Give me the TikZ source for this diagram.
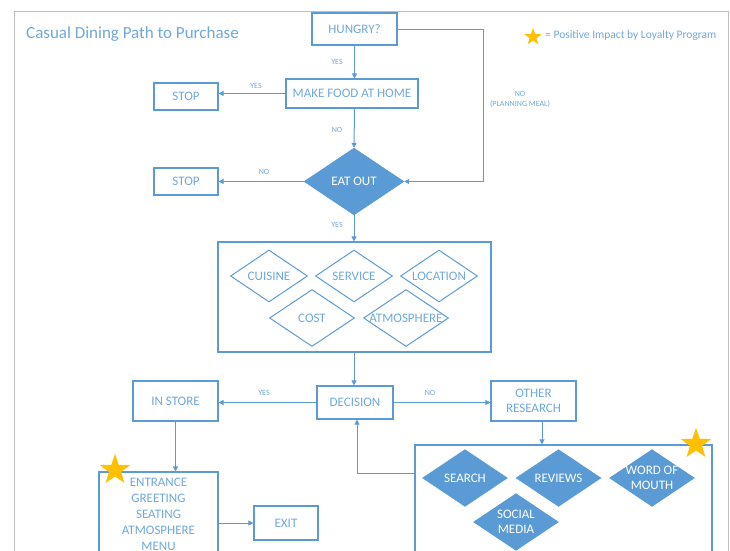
\documentclass[tikz,border=0pt]{standalone}
\usepackage{fontspec}
\setmainfont{Carlito}
\usetikzlibrary{shapes.geometric,arrows.meta,calc}
\definecolor{ob}{HTML}{5B9BD5}
\definecolor{obtxt}{HTML}{6FA8DC}
\definecolor{gold}{HTML}{FFC000}
\begin{document}
\begin{tikzpicture}[x=1pt,y=-1pt,
 every node/.style={inner sep=0pt},
 box/.style={draw=ob,line width=1.1pt,text=obtxt,font=\fontsize{13}{15}\selectfont,align=center},
 lbl/.style={text=obtxt,font=\fontsize{8}{10}\selectfont,align=center},
 arr/.style={draw=ob,line width=1pt,-{Triangle[length=5pt,width=5pt]}},
 ln/.style={draw=ob,line width=1pt},
 dtxt/.style={text=obtxt,font=\fontsize{13}{15}\selectfont,align=center},
 odia/.style={draw=ob,line width=1pt,shape=diamond,minimum width=77pt,minimum height=52pt},
 odiab/.style={odia,minimum width=85pt,minimum height=57pt},
 fdia/.style={draw=ob,fill=ob,shape=diamond,minimum width=85pt,minimum height=57pt},
 wtxt/.style={text=white,font=\fontsize{13}{15}\selectfont,align=center},
 gstar/.style={star,star points=5,star point ratio=2.5,fill=gold,draw=none}
]
\useasboundingbox (0,0) rectangle (730,550);
\draw[black!25,line width=0.8pt] (14,11) rectangle (728,600);

% title and legend
\node[anchor=west,text=obtxt,font=\fontsize{17}{20}\selectfont] (title) at (26,34) {Casual Dining Path to Purchase};
\node[gstar,minimum size=18pt] (lstar) at (533,37) {};
\node[anchor=west,text=obtxt,font=\fontsize{11.5}{13}\selectfont] (legend) at (545,35) {= Positive Impact by Loyalty Program};

% top part
\node[box,minimum width=85pt,minimum height=32pt] (hungry) at (354.5,29) {HUNGRY?};
\node[box,minimum width=132pt,minimum height=29pt] (make) at (352,93.5) {MAKE FOOD AT HOME};
\node[box,minimum width=64pt,minimum height=27pt] (stop1) at (186,96.5) {STOP};
\node[draw=ob,fill=ob,shape=diamond,minimum width=100pt,minimum height=67pt,label={[wtxt]center:EAT OUT}] (eatout) at (354,181.5) {};
\node[box,minimum width=64pt,minimum height=27pt] (stop2) at (186,181.5) {STOP};

% criteria box
\node[box,minimum width=273pt,minimum height=110pt] (crit) at (354.5,297) {};
\node[odia,label={[dtxt]center:CUISINE}] (cuisine) at (269,276) {};
\node[odia,label={[dtxt]center:SERVICE}] (service) at (354,276) {};
\node[odia,label={[dtxt]center:LOCATION}] (location) at (439,276) {};
\node[odiab,label={[dtxt]center:COST}] (cost) at (312,318) {};
\node[odiab,label={[dtxt]center:ATMOSPHERE}] (atmos) at (406,318) {};

% decision row
\node[box,minimum width=76pt,minimum height=33pt] (decision) at (355,402.5) {DECISION};
\node[box,minimum width=85pt,minimum height=40pt] (instore) at (175.5,401) {IN STORE};
\node[box,minimum width=85pt,minimum height=40pt,font=\fontsize{13}{15.5}\selectfont] (other) at (533.5,401) {OTHER\\RESEARCH};

% research box
\node[box,minimum width=297pt,minimum height=150pt] (research) at (563.5,520) {};
\node[fdia,label={[wtxt]center:SEARCH}] (search) at (465,478) {};
\node[fdia,label={[wtxt]center:REVIEWS}] (reviews) at (558.5,478) {};
\node[fdia,label={[wtxt]center:WORD OF\\MOUTH}] (wom) at (652,478) {};
\node[fdia,label={[wtxt]center:SOCIAL\\MEDIA}] (social) at (516,522) {};
\node[gstar,minimum size=32pt] (rstar) at (696,444) {};

% in store part
\node[box,minimum width=119pt,minimum height=84pt,font=\fontsize{13}{16}\selectfont] (entrance) at (158.5,514) {ENTRANCE\\GREETING\\SEATING\\ATMOSPHERE\\MENU};
\node[gstar,minimum size=32pt] (estar) at (115,470) {};
\node[box,minimum width=64pt,minimum height=34pt] (exit) at (286,523) {EXIT};

% connectors
\draw[arr] (hungry.south) -- (hungry.south |- make.north);
\draw[arr] (make.west) -- (stop1.east |- make.west);
\draw[arr] (hungry.south |- make.south) -- (eatout.north);
\coordinate (nbend) at (483,29);
\draw[arr] (hungry.east) -- (nbend) |- (eatout.east);
\draw[arr] (eatout.west) -- (stop2.east);
\draw[arr] (eatout.south) -- (eatout.south |- crit.north);
\draw[arr] (crit.south -| eatout.south) -- (eatout.south |- decision.north);
\draw[arr] (decision.west) -- (instore.east |- decision.west);
\draw[arr] (decision.east) -- (other.west |- decision.east);
\coordinate (odown) at ($(other.south)+(8.5,0)$);
\draw[arr] (odown) -- (odown |- research.north);
\coordinate (rb) at (357,473);
\draw[arr] (rb -| research.west) -- (rb) -- (rb |- decision.south);
\draw[arr] (instore.south) -- (instore.south |- entrance.north);
\draw[arr] (exit.west -| entrance.east) -- (exit.west);

% labels
\node[lbl] (l1) at (337,62) {YES};
\node[lbl] (l2) at (256,86) {YES};
\node[lbl] (l3) at (337,130) {NO};
\node[lbl] (l4) at (264,172) {NO};
\node[lbl] (l5) at (337,225) {YES};
\node[lbl] (l6) at (520,99) {NO\\(PLANNING MEAL)};
\node[lbl] (l7) at (264,393) {YES};
\node[lbl] (l8) at (430,393) {NO};
\end{tikzpicture}
\end{document}
